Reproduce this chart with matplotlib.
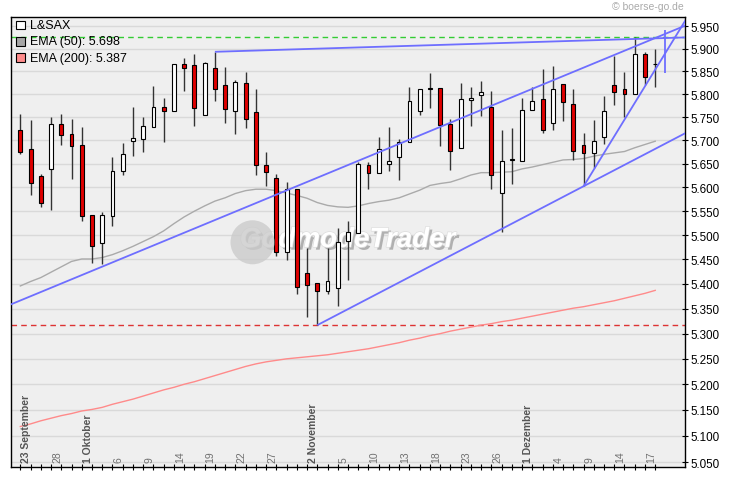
import numpy as np
import matplotlib
matplotlib.use("Agg")
import matplotlib.pyplot as plt
from matplotlib.patches import Rectangle, Circle
from matplotlib.ticker import FixedLocator, FuncFormatter, NullLocator, NullFormatter
import matplotlib.patheffects as pe
import matplotlib.transforms as mtransforms

plt.rcParams["font.family"] = ["Liberation Sans", "DejaVu Sans"]

# Kursdaten L&SAX, 23.09. - 18.12. (Handelstage)
opens = [5.722, 5.681, 5.623, 5.639, 5.734, 5.713, 5.689, 5.541, 5.484, 5.540,
         5.634, 5.699, 5.703, 5.729, 5.771, 5.764, 5.865, 5.863, 5.755, 5.858,
         5.819, 5.764, 5.825, 5.760, 5.648, 5.620, 5.466, 5.597, 5.423, 5.402,
         5.386, 5.392, 5.487, 5.505, 5.648, 5.631, 5.650, 5.664, 5.697, 5.764,
         5.812, 5.814, 5.734, 5.684, 5.787, 5.799, 5.771, 5.589, 5.657, 5.656,
         5.766, 5.789, 5.738, 5.821, 5.779, 5.689, 5.673, 5.708, 5.819, 5.812,
         5.801, 5.889, 5.867]
highs = [5.756, 5.743, 5.629, 5.751, 5.756, 5.745, 5.728, 5.541, 5.548, 5.664,
         5.694, 5.771, 5.750, 5.817, 5.791, 5.865, 5.879, 5.889, 5.871, 5.893,
         5.860, 5.830, 5.849, 5.811, 5.676, 5.628, 5.612, 5.597, 5.473, 5.402,
         5.473, 5.514, 5.529, 5.654, 5.653, 5.706, 5.728, 5.702, 5.815, 5.812,
         5.846, 5.814, 5.745, 5.824, 5.815, 5.828, 5.806, 5.722, 5.726, 5.791,
         5.815, 5.854, 5.861, 5.821, 5.811, 5.715, 5.743, 5.795, 5.884, 5.848,
         5.926, 5.892, 5.900]
lows = [5.670, 5.584, 5.558, 5.552, 5.690, 5.618, 5.529, 5.442, 5.440, 5.519,
        5.626, 5.666, 5.674, 5.729, 5.696, 5.764, 5.807, 5.731, 5.755, 5.784,
        5.738, 5.714, 5.727, 5.625, 5.603, 5.458, 5.449, 5.379, 5.334, 5.317,
        5.379, 5.356, 5.408, 5.505, 5.596, 5.631, 5.634, 5.615, 5.697, 5.755,
        5.769, 5.688, 5.636, 5.684, 5.731, 5.752, 5.596, 5.507, 5.607, 5.656,
        5.766, 5.716, 5.722, 5.742, 5.658, 5.602, 5.640, 5.692, 5.776, 5.750,
        5.801, 5.820, 5.816]
closes = [5.675, 5.609, 5.567, 5.734, 5.712, 5.688, 5.540, 5.477, 5.541, 5.635,
          5.671, 5.704, 5.730, 5.771, 5.763, 5.865, 5.858, 5.770, 5.869, 5.812,
          5.768, 5.827, 5.745, 5.648, 5.633, 5.466, 5.597, 5.394, 5.398, 5.386,
          5.407, 5.485, 5.507, 5.649, 5.630, 5.681, 5.656, 5.696, 5.784, 5.812,
          5.814, 5.733, 5.678, 5.789, 5.792, 5.804, 5.625, 5.656, 5.659, 5.766,
          5.784, 5.723, 5.812, 5.782, 5.678, 5.673, 5.699, 5.764, 5.805, 5.800,
          5.889, 5.838, 5.867]

ema50 = [5.396, 5.405, 5.413, 5.424, 5.435, 5.446, 5.451, 5.451, 5.454, 5.460,
         5.468, 5.477, 5.487, 5.497, 5.509, 5.524, 5.538, 5.550, 5.561, 5.571,
         5.578, 5.587, 5.593, 5.596, 5.596, 5.593, 5.588, 5.583, 5.577, 5.568,
         5.562, 5.559, 5.558, 5.561, 5.566, 5.570, 5.573, 5.578, 5.586, 5.594,
         5.604, 5.608, 5.611, 5.618, 5.626, 5.631, 5.631, 5.632, 5.633, 5.639,
         5.643, 5.648, 5.653, 5.658, 5.659, 5.661, 5.666, 5.670, 5.673, 5.676,
         5.684, 5.691, 5.698]
ema200 = [5.118, 5.123, 5.129, 5.134, 5.139, 5.143, 5.148, 5.151, 5.155, 5.161,
          5.166, 5.171, 5.177, 5.183, 5.189, 5.194, 5.200, 5.205, 5.211, 5.217,
          5.223, 5.229, 5.235, 5.240, 5.244, 5.247, 5.250, 5.252, 5.254, 5.256,
          5.258, 5.261, 5.264, 5.267, 5.270, 5.274, 5.278, 5.282, 5.287, 5.291,
          5.296, 5.300, 5.305, 5.309, 5.313, 5.317, 5.320, 5.324, 5.327, 5.331,
          5.335, 5.339, 5.343, 5.347, 5.351, 5.354, 5.358, 5.362, 5.366, 5.371,
          5.376, 5.381, 5.387]

# Datumsbeschriftung (Index des Handelstags)
label_days = [0, 3, 6, 9, 12, 15, 18, 21, 24, 28, 31, 34, 37, 40, 43, 46, 49, 52, 55, 58, 61]
label_texts = ["23 September", "28", "1 Oktober", "6", "9", "14", "19", "22", "27",
               "2 November", "5", "10", "13", "18", "23", "26", "1 Dezember",
               "4", "9", "14", "17"]

# Trendlinien (Tag, Kurs) -> (Tag, Kurs)
trend_lines = [
    ((19, 5.893), (65, 5.925)),
    ((-1, 5.358), (65, 5.952)),
    ((29, 5.317), (65, 5.716)),
    ((55, 5.602), (65, 5.965)),
    ((63, 5.941), (63, 5.846)),
]
high_mark = 5.926
low_mark = 5.317

y_ticks = np.round(np.arange(5.05, 5.951, 0.05), 2)

W, H = 730, 481
fig = plt.figure(figsize=(W / 100, H / 100), dpi=100)
L, R, T, B = 10.5, 684.5, 18.3, 468.0
ax = fig.add_axes([L / W, 1 - B / H, (R - L) / W, (B - T) / H])
ax.set_facecolor("#efefef")

ax.set_yscale("log")
ax.set_xlim(-0.96, 64.86)
ax.set_ylim(5.0406, 5.970)

ax.yaxis.set_major_locator(FixedLocator(y_ticks))
ax.yaxis.set_major_formatter(FuncFormatter(lambda v, p: f"{v:.3f}"))
ax.yaxis.set_minor_locator(NullLocator())
ax.yaxis.set_minor_formatter(NullFormatter())
ax.yaxis.tick_right()
ax.tick_params(axis="y", direction="inout", length=4, width=0.8, labelsize=8.4, pad=2)
ax.yaxis.grid(True, color="#d9d9d9", lw=1)
ax.set_axisbelow(True)

days = np.arange(len(opens))
ax.xaxis.set_major_locator(FixedLocator(days))
ax.xaxis.set_minor_locator(NullLocator())
ax.tick_params(axis="x", direction="inout", length=4, width=0.8, labelbottom=False)

for sp in ax.spines.values():
    sp.set_color("black")
    sp.set_linewidth(1)

# Wasserzeichen
circ = Circle((252.5, H - 243.3), 22, transform=mtransforms.IdentityTransform(),
              facecolor="#cbcbcb", edgecolor="none", alpha=0.8, zorder=0.5)
fig.patches.append(circ)
ax.text(0.5, 0.505, "GodmodeTrader", transform=ax.transAxes, ha="center", va="center",
        fontsize=20, fontweight="bold", fontstyle="italic",
        color="white", zorder=0.6,
        path_effects=[pe.SimplePatchShadow(offset=(2, -2), shadow_rgbFace="#b0b0b0", alpha=1),
                      pe.withStroke(linewidth=1, foreground="#dddddd")])

# Hilfslinien
ax.axhline(high_mark, color="#33cc33", lw=1, ls=(0, (4, 3)), zorder=1)
ax.axhline(low_mark, color="#dd3333", lw=1, ls=(0, (4, 3)), zorder=1)

ax.plot(days, ema50, color="#aaaaaa", lw=1, zorder=1.5)
ax.plot(days, ema200, color="#ff8a8a", lw=1, zorder=1.5)

for (x0, y0), (x1, y1) in trend_lines:
    ax.plot([x0, x1], [y0, y1], color="#6e6eff", lw=1.3, zorder=4, solid_capstyle="butt")

# Kerzen
o = np.array(opens)
c = np.array(closes)
ax.vlines(days, lows, highs, color="#333333", lw=1, zorder=2)
up = c >= o
ax.bar(days[up], (c - o)[up], bottom=o[up], width=0.38, color="white",
       edgecolor="black", lw=0.8, zorder=3)
ax.bar(days[~up], (o - c)[~up], bottom=c[~up], width=0.38, color="#e00000",
       edgecolor="black", lw=0.8, zorder=3)

# Datumslabels
off = mtransforms.ScaledTranslation(6 / 100, 0, fig.dpi_scale_trans)
tr = mtransforms.blended_transform_factory(ax.transData, ax.transAxes) + off
for d, t in zip(label_days, label_texts):
    bold = " " in t
    ax.text(d, 0.012, t, transform=tr, rotation=90, ha="center", va="bottom",
            fontsize=7.5, fontweight="bold" if bold else "normal",
            color="#555555" if bold else "#707070", zorder=5)

# Legende
legend_items = [("L&SAX", "white"), ("EMA (50): 5.698", "#a6a6a6"), ("EMA (200): 5.387", "#ff8c8c")]
for i, (txt, col) in enumerate(legend_items):
    yc = 26 + i * 16.3
    fig.patches.append(Rectangle((16.3, H - yc - 4.3), 8.6, 8.6,
                                 transform=mtransforms.IdentityTransform(),
                                 facecolor=col, edgecolor="black", lw=0.8, zorder=6))
    fig.text(30 / W, 1 - yc / H, txt, ha="left", va="center", fontsize=9, color="black")

fig.text(684 / W, 1 - 7 / H, "\u00a9 boerse-go.de", ha="right", va="center",
         fontsize=7.5, color="#aaaaaa")

fig.savefig("out.png", dpi=100)
